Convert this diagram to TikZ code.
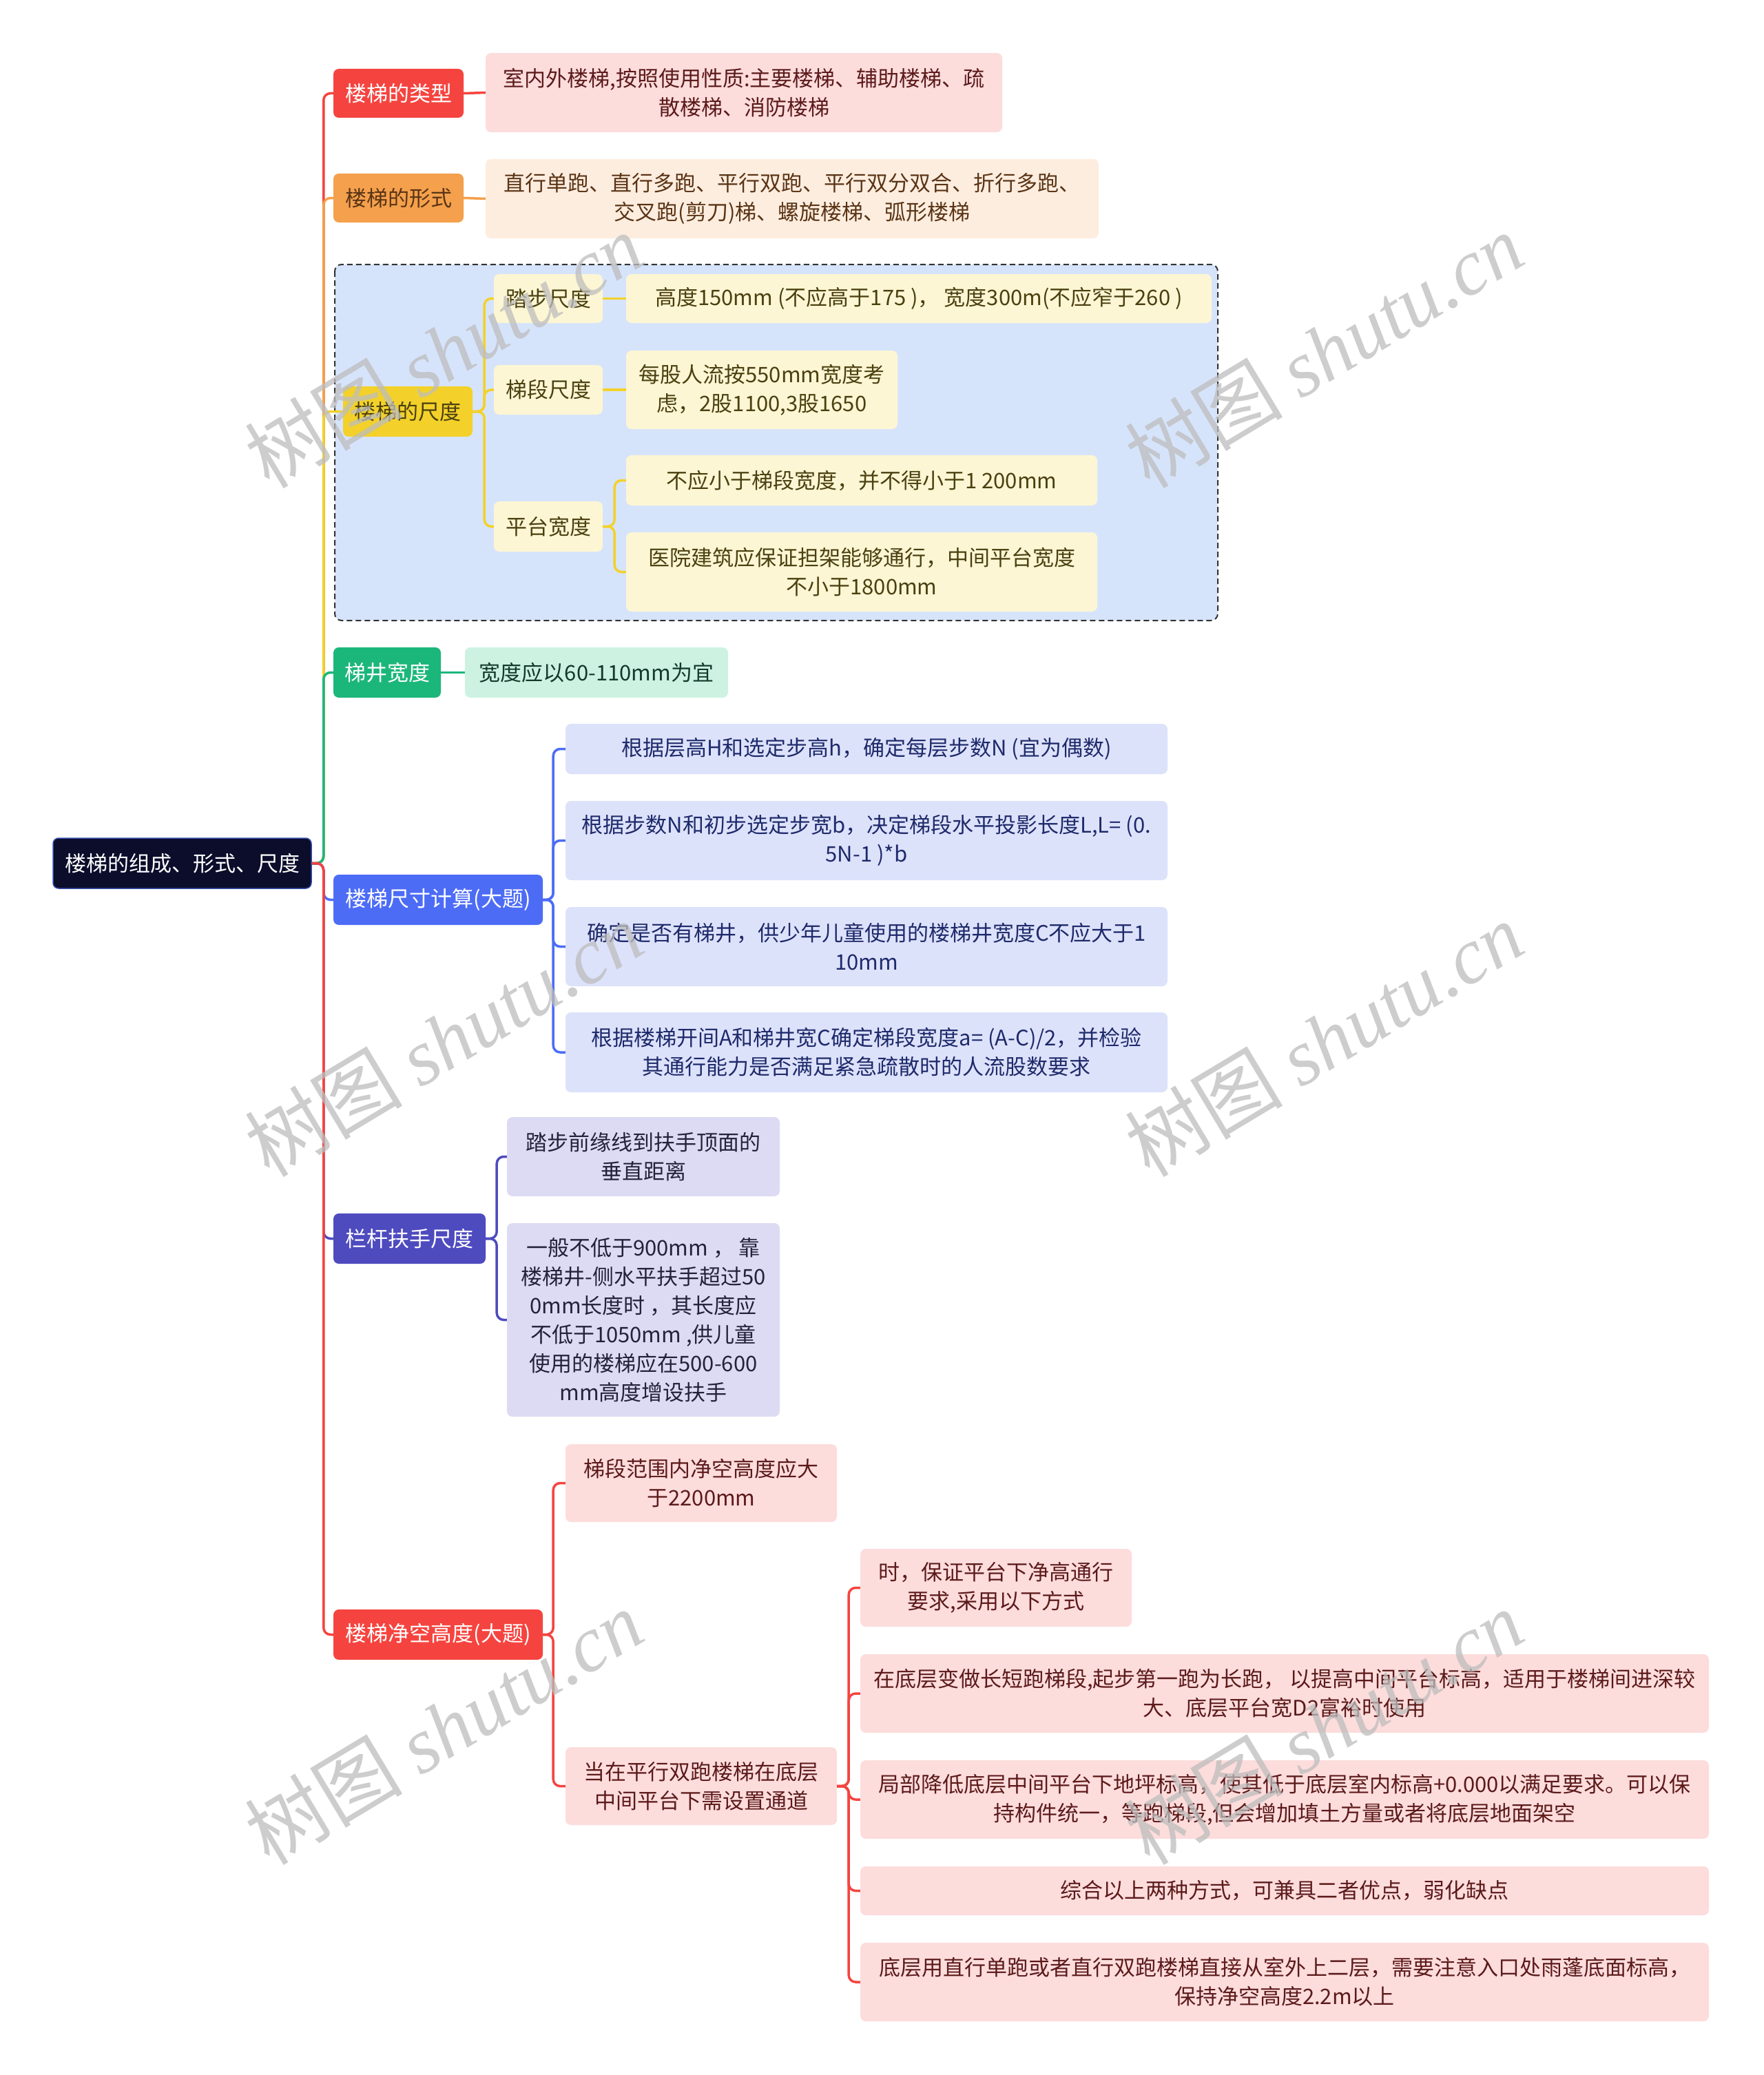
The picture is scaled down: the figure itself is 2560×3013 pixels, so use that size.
\documentclass[tikz,border=0pt]{standalone}
\usepackage{fontspec}
\setmainfont{Noto Sans CJK SC}
\newfontfamily\wmserif{Liberation Serif}
\definecolor{rootc}{HTML}{0B0D2B}
\definecolor{redc}{HTML}{F5443F}
\definecolor{orac}{HTML}{F4A04C}
\definecolor{yelc}{HTML}{F3D12A}
\definecolor{grec}{HTML}{1BB77A}
\definecolor{bluc}{HTML}{4D6CF6}
\definecolor{purc}{HTML}{4E4BBF}
\definecolor{pinkl}{HTML}{FDDCDC}
\definecolor{peachl}{HTML}{FDEDDF}
\definecolor{yell}{HTML}{FDF6D4}
\definecolor{bgblue}{HTML}{D6E4FB}
\definecolor{grel}{HTML}{CDF2E2}
\definecolor{blul}{HTML}{DDE2FB}
\definecolor{purl}{HTML}{DDDBF3}
\definecolor{tred}{HTML}{5C1A1A}
\definecolor{tora}{HTML}{5A3415}
\definecolor{tyel}{HTML}{4A4010}
\definecolor{tgre}{HTML}{123A2A}
\definecolor{tblu}{HTML}{1E2A6A}
\definecolor{tpur}{HTML}{22223A}
\definecolor{wm}{HTML}{BDBDBD}
\tikzset{
  nbox/.style={rounded corners=8pt, inner sep=0pt, align=center, font=\fontsize{31}{42}\selectfont},
  conn/.style={line width=3.5pt, rounded corners=10pt},
  wmark/.style={rotate=31, text=wm, opacity=0.75, font=\fontsize{115}{115}\selectfont}
}
\newcommand\bx[7]{\node[nbox,#6,minimum width={(#4-#2)*1pt},minimum height={(#5-#3)*1pt}] (#1) at ({(#2+#4)/2},{(#3+#5)/2}) {#7};}
\begin{document}
\begin{tikzpicture}[x=1pt,y=-1pt]
\useasboundingbox[fill=white] (0,0) rectangle (2560,3013);
% dashed group background
\draw[fill=bgblue, draw=black!80, line width=2pt, dash pattern=on 8pt off 5pt, rounded corners=10pt] (486,384) rectangle (1768,901);
% root
\bx{root}{77}{1217}{452}{1290}{fill=rootc,draw=bluc!70!black,line width=1.5pt,text=white}{楼梯的组成、形式、尺度}
% level 1
\bx{n1}{484}{100}{673}{171}{fill=redc,text=white}{楼梯的类型}
\bx{n2}{484}{252}{673}{323}{fill=orac,text=tora}{楼梯的形式}
\bx{n3}{498}{561}{686}{634}{fill=yelc,text=tyel}{楼梯的尺度}
\bx{n4}{484}{940}{640}{1013}{fill=grec,text=white}{梯井宽度}
\bx{n5}{484}{1270}{788}{1343}{fill=bluc,text=white}{楼梯尺寸计算(大题)}
\bx{n6}{484}{1762}{705}{1835}{fill=purc,text=white}{栏杆扶手尺度}
\bx{n7}{484}{2337}{788}{2410}{fill=redc,text=white}{楼梯净空高度(大题)}
% level 1 connectors
\draw[conn,redc] (root.east) -- ++(17,0) |- (n1.west);
\draw[conn,orac] (root.east) -- ++(17,0) |- (n2.west);
\draw[conn,yelc] (root.east) -- ++(17,0) |- (n3.west);
\draw[conn,grec] (root.east) -- ++(17,0) |- (n4.west);
\draw[conn,bluc] (root.east) -- ++(17,0) |- (n5.west);
\draw[conn,purc] (root.east) -- ++(17,0) |- (n6.west);
\draw[conn,redc] (root.east) -- ++(17,0) |- (n7.west);
% branch 1
\bx{a1}{705}{77}{1455}{192}{fill=pinkl,text=tred}{室内外楼梯,按照使用性质:主要楼梯、辅助楼梯、疏\\散楼梯、消防楼梯}
\draw[conn,redc] (n1.east) -- (a1.west);
% branch 2
\bx{a2}{705}{231}{1595}{346}{fill=peachl,text=tora}{直行单跑、直行多跑、平行双跑、平行双分双合、折行多跑、\\交叉跑(剪刀)梯、螺旋楼梯、弧形楼梯}
\draw[conn,orac] (n2.east) -- (a2.west);
% branch 3
\bx{b1}{717}{398}{875}{469}{fill=yell,text=tyel}{踏步尺度}
\bx{b2}{717}{530}{875}{602}{fill=yell,text=tyel}{梯段尺度}
\bx{b3}{717}{728}{875}{801}{fill=yell,text=tyel}{平台宽度}
\draw[conn,yelc] (n3.east) -- ++(17,0) |- (b1.west);
\draw[conn,yelc] (n3.east) -- ++(17,0) |- (b2.west);
\draw[conn,yelc] (n3.east) -- ++(17,0) |- (b3.west);
\bx{b1a}{909}{398}{1759}{469}{fill=yell,text=tyel}{高度150mm (不应高于175 )， 宽度300m(不应窄于260 )}
\bx{b2a}{909}{509}{1303}{623}{fill=yell,text=tyel}{每股人流按550mm宽度考\\虑，2股1100,3股1650}
\bx{b3a}{909}{661}{1593}{734}{fill=yell,text=tyel}{不应小于梯段宽度，并不得小于1 200mm}
\bx{b3b}{909}{773}{1593}{888}{fill=yell,text=tyel}{医院建筑应保证担架能够通行，中间平台宽度\\不小于1800mm}
\draw[conn,yelc] (b1.east) -- (b1a.west);
\draw[conn,yelc] (b2.east) -- (b2a.west);
\draw[conn,yelc] (b3.east) -- ++(17,0) |- (b3a.west);
\draw[conn,yelc] (b3.east) -- ++(17,0) |- (b3b.west);
% branch 4
\bx{d1}{675}{940}{1057}{1013}{fill=grel,text=tgre}{宽度应以60-110mm为宜}
\draw[conn,grec] (n4.east) -- (d1.west);
% branch 5
\bx{e1}{821}{1051}{1695}{1124}{fill=blul,text=tblu}{根据层高H和选定步高h，确定每层步数N (宜为偶数)}
\bx{e2}{821}{1163}{1695}{1278}{fill=blul,text=tblu}{根据步数N和初步选定步宽b，决定梯段水平投影长度L,L= (0.\\5N-1 )*b}
\bx{e3}{821}{1317}{1695}{1432}{fill=blul,text=tblu}{确定是否有梯井，供少年儿童使用的楼梯井宽度C不应大于1\\10mm}
\bx{e4}{821}{1470}{1695}{1586}{fill=blul,text=tblu}{根据楼梯开间A和梯井宽C确定梯段宽度a= (A-C)/2，并检验\\其通行能力是否满足紧急疏散时的人流股数要求}
\foreach \c in {e1,e2,e3,e4} \draw[conn,bluc] (n5.east) -- ++(15,0) |- (\c.west);
% branch 6
\bx{f1}{736}{1622}{1132}{1737}{fill=purl,text=tpur}{踏步前缘线到扶手顶面的\\垂直距离}
\bx{f2}{736}{1776}{1132}{2057}{fill=purl,text=tpur}{一般不低于900mm ， 靠\\楼梯井-侧水平扶手超过50\\0mm长度时 ，其长度应\\不低于1050mm ,供儿童\\使用的楼梯应在500-600\\mm高度增设扶手}
\foreach \c in {f1,f2} \draw[conn,purc] (n6.east) -- ++(16,0) |- (\c.west);
% branch 7
\bx{g1}{821}{2097}{1215}{2210}{fill=pinkl,text=tred}{梯段范围内净空高度应大\\于2200mm}
\bx{g2}{821}{2537}{1215}{2650}{fill=pinkl,text=tred}{当在平行双跑楼梯在底层\\中间平台下需设置通道}
\foreach \c in {g1,g2} \draw[conn,redc] (n7.east) -- ++(15,0) |- (\c.west);
\bx{h1}{1249}{2249}{1643}{2362}{fill=pinkl,text=tred}{时，保证平台下净高通行\\要求,采用以下方式}
\bx{h2}{1249}{2402}{2481}{2516}{fill=pinkl,text=tred}{在底层变做长短跑梯段,起步第一跑为长跑， 以提高中间平台标高，适用于楼梯间进深较\\大、底层平台宽D2富裕时使用}
\bx{h3}{1249}{2556}{2481}{2670}{fill=pinkl,text=tred}{局部降低底层中间平台下地坪标高，使其低于底层室内标高+0.000以满足要求。可以保\\持构件统一，等跑梯段,但会增加填土方量或者将底层地面架空}
\bx{h4}{1249}{2710}{2481}{2781}{fill=pinkl,text=tred}{综合以上两种方式，可兼具二者优点，弱化缺点}
\bx{h5}{1249}{2821}{2481}{2935}{fill=pinkl,text=tred}{底层用直行单跑或者直行双跑楼梯直接从室外上二层，需要注意入口处雨蓬底面标高，\\保持净空高度2.2m以上}
\foreach \c in {h1,h2,h3,h4,h5} \draw[conn,redc] (g2.east) -- ++(17,0) |- (\c.west);
% watermarks
\foreach \wx/\wy [count=\i] in {644/509, 1922/509, 644/1509, 1922/1509, 644/2508, 1922/2508}
  \node[wmark] (wm\i) at (\wx,\wy) {树图 {\wmserif\itshape shutu.cn}};
\end{tikzpicture}
\end{document}
